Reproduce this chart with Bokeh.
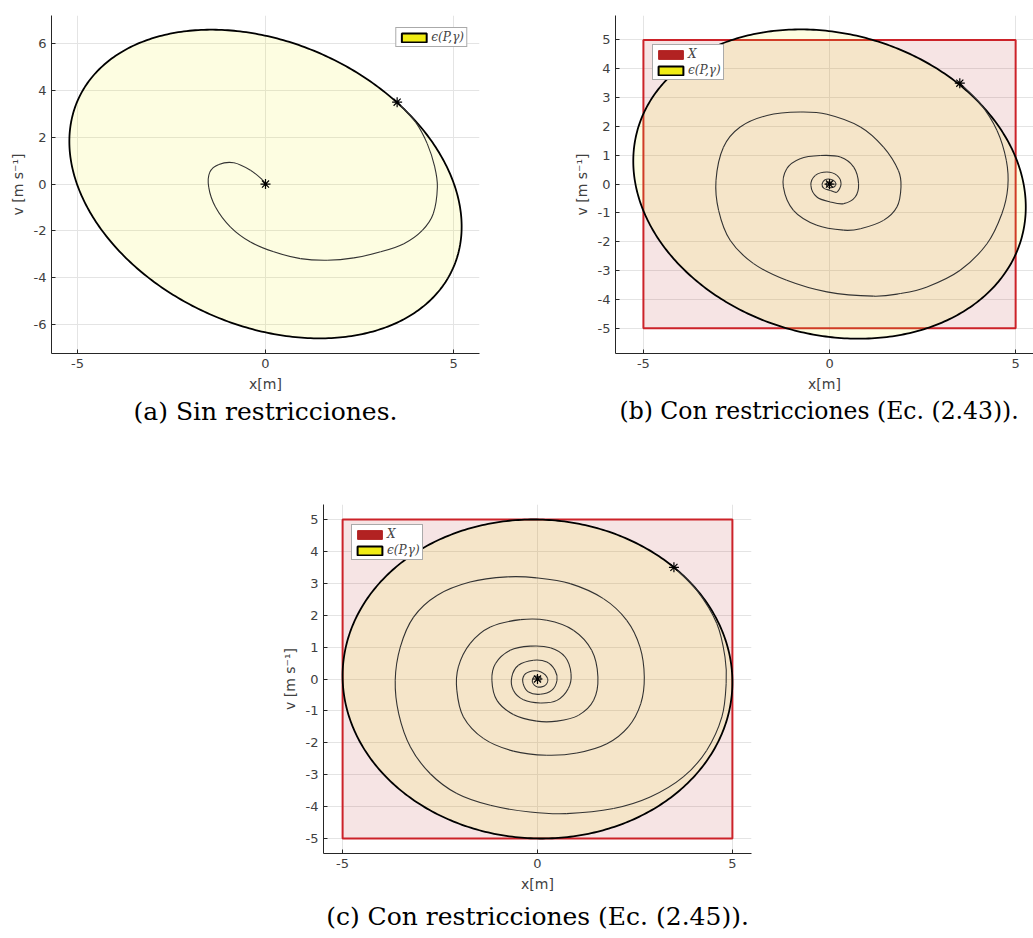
import numpy as np
from bokeh.plotting import figure
from bokeh.layouts import column, row
from bokeh.models import FixedTicker, Legend, LegendItem, Title, Spacer, Range1d
from bokeh.embed import file_html
from bokeh.resources import INLINE

# ---- tick positions -------------------------------------------------------
x_ticks = [-5, 0, 5]
va_ticks = [-6, -4, -2, 0, 2, 4, 6]
vbc_ticks = [-5, -4, -3, -2, -1, 0, 1, 2, 3, 4, 5]

# ---- initial state and equilibrium ----------------------------------------
x0 = [3.5]
v0 = [3.5]
xe = [0.0]
ve = [0.0]

# ---- state constraint set X : |x| <= 5, |v| <= 5 ---------------------------
box_x = [-5, 5, 5, -5]
box_v = [-5, -5, 5, 5]

# ---- ellipsoid shape matrices gamma*P^-1, stored as [m11, m12, m22] -------
ell_a = [27.2, -9.5, 43.6]
ell_b = [27.8, -4.2, 28.8]
ell_c = [25.0, -0.5, 25.0]

# ---- closed-loop trajectories from x0 --------------------------------------
traj_a_x = [3.5, 3.99, 4.30, 4.50, 4.57, 4.46, 4.17, 3.68, 3.06, 2.35, 1.64, 0.93,
            0.22, -0.40, -0.93, -1.33, -1.51, -1.48, -1.24, -0.84, -0.40, -0.09, 0.0]
traj_a_v = [3.5, 2.65, 1.73, 0.73, -0.13, -1.27, -1.98, -2.55, -2.90, -3.16, -3.26, -3.19,
            -2.90, -2.48, -1.84, -0.98, -0.13, 0.51, 0.84, 0.91, 0.59, 0.19, 0.0]

traj_b_x = [3.5, 4.05, 4.50, 4.75, 4.79, 4.63, 4.23, 3.51, 2.62, 1.90, 1.18,
            -0.07, -1.15, -2.04, -2.67, -2.98, -3.05, -2.85, -2.40, -1.68, -0.79,
            -0.07, 0.83, 1.45, 1.85, 1.92, 1.81, 1.45, 0.83, 0.38, -0.34,
            -0.97, -1.24, -1.15, -0.79, -0.25, 0.29, 0.65, 0.78, 0.69, 0.38,
            0.02, -0.34, -0.50, -0.38, -0.07, 0.20, 0.31, 0.20, 0.02, -0.15,
            -0.20, -0.12, 0.02, 0.15, 0.16, 0.08, -0.04, -0.09, -0.04, 0.04,
            0.06, 0.0]
traj_b_v = [3.5, 2.79, 1.86, 0.82, -0.10, -1.03, -2.07, -2.99, -3.57, -3.80, -3.89,
            -3.74, -3.34, -2.76, -1.95, -0.91, 0.13, 1.28, 1.98, 2.38, 2.50,
            2.42, 1.98, 1.28, 0.47, -0.10, -0.80, -1.26, -1.55, -1.60, -1.43,
            -0.91, -0.10, 0.53, 0.88, 0.99, 0.94, 0.59, 0.01, -0.45, -0.68,
            -0.62, -0.45, -0.05, 0.30, 0.42, 0.30, 0.01, -0.28, -0.22, -0.15,
            0.0, 0.15, 0.17, 0.08, -0.05, -0.12, -0.10, 0.0, 0.07, 0.06,
            0.0, 0.0]

traj_c_x = [3.5, 4.09, 4.60, 4.81, 4.84, 4.73, 4.34, 3.74, 2.89, 1.95,
            0.75, -0.19, -1.21, -2.07, -2.75, -3.26, -3.56, -3.65, -3.52, -3.18,
            -2.58, -1.73, -0.78, -0.02, 0.84, 1.69, 2.29, 2.63, 2.74, 2.65,
            2.33, 1.78, 1.01, 0.24, -0.62, -1.38, -1.90, -2.07, -2.03, -1.73,
            -1.21, -0.44, 0.24, 0.92, 1.39, 1.55, 1.44, 1.05, 0.50, -0.02,
            -0.62, -1.04, -1.17, -1.08, -0.70, -0.19, 0.33, 0.71, 0.86, 0.79,
            0.50, 0.07, -0.36, -0.62, -0.66, -0.49, -0.10, 0.24, 0.45, 0.50,
            0.37, 0.07, -0.23, -0.37, -0.34, -0.14, 0.09, 0.26, 0.20, 0.0,
            -0.13, -0.08, 0.07, 0.08, 0.0]
traj_c_v = [3.5, 2.78, 1.74, 0.69, -0.14, -1.19, -2.24, -3.07, -3.70, -4.06,
            -4.22, -4.17, -3.96, -3.59, -2.97, -2.13, -1.09, -0.04, 1.0, 1.94,
            2.62, 3.04, 3.20, 3.17, 2.99, 2.52, 1.84, 1.0, 0.06, -0.77,
            -1.50, -2.03, -2.32, -2.39, -2.26, -1.87, -1.19, -0.35, 0.38, 1.11,
            1.63, 1.86, 1.84, 1.53, 0.90, 0.06, -0.67, -1.14, -1.32, -1.32,
            -1.11, -0.67, -0.04, 0.48, 0.90, 1.03, 0.98, 0.69, 0.17, -0.30,
            -0.67, -0.75, -0.65, -0.35, 0.06, 0.43, 0.59, 0.53, 0.27, -0.04,
            -0.35, -0.48, -0.41, -0.14, 0.12, 0.25, 0.22, 0.01, -0.20, -0.25,
            -0.10, 0.08, 0.06, -0.04, 0.0]

captions = ["(a) Sin restricciones.",
            "(b) Con restricciones (Ec. (2.43)).",
            "(c) Con restricciones (Ec. (2.45))."]
ellipse_label = "ϵ(P,γ)"
box_label = "X"

YELLOW = "#F0EC14"
RED = "#B22222"
BOX_LINE = "#CC2229"
AX = "#262626"
TXT = "#404040"


def ellipse_outline(m, n=400):
    """Boundary of {z : z' M^-1 z <= 1} for the shape matrix M."""
    mat = np.array([[m[0], m[1]], [m[1], m[2]]])
    chol = np.linalg.cholesky(mat)
    t = np.linspace(0.0, 2.0 * np.pi, n)
    pts = chol @ np.vstack([np.cos(t), np.sin(t)])
    return pts[0], pts[1]


def smooth_path(p, xs, ys, **kw):
    """Draw a curve through the given states with cubic Bezier pieces
    (Catmull-Rom tangents), one piece between each pair of states."""
    x = np.asarray(xs, dtype=float)
    y = np.asarray(ys, dtype=float)
    xp = np.concatenate([[x[0]], x, [x[-1]]])
    yp = np.concatenate([[y[0]], y, [y[-1]]])
    x_a, y_a = xp[1:-2], yp[1:-2]
    x_b, y_b = xp[2:-1], yp[2:-1]
    c0x = x_a + (xp[2:-1] - xp[:-3]) / 6.0
    c0y = y_a + (yp[2:-1] - yp[:-3]) / 6.0
    c1x = x_b - (xp[3:] - xp[1:-2]) / 6.0
    c1y = y_b - (yp[3:] - yp[1:-2]) / 6.0
    p.bezier(x0=x_a, y0=y_a, x1=x_b, y1=y_b, cx0=c0x, cy0=c0y, cx1=c1x, cy1=c1y, **kw)


def make_panel(width, height, borders, xr, yr, yticks, caption, cap_size, cap_standoff,
               cap_align="center", cap_offset=0):
    left, right, top, bottom = borders
    p = figure(width=width, height=height, x_range=Range1d(*xr), y_range=Range1d(*yr),
               output_backend="svg", toolbar_location=None, title=None,
               min_border_left=left, min_border_right=right,
               min_border_top=top, min_border_bottom=bottom)
    p.outline_line_color = None
    p.background_fill_color = "white"
    p.border_fill_color = "white"
    p.xaxis.ticker = FixedTicker(ticks=x_ticks)
    p.yaxis.ticker = FixedTicker(ticks=yticks)
    p.xaxis.major_label_overrides = {t: str(t) for t in x_ticks}
    p.yaxis.major_label_overrides = {t: str(t) for t in yticks}
    p.xaxis.axis_label = "x[m]"
    p.yaxis.axis_label = "v [m s⁻¹]"
    for ax in (p.xaxis[0], p.yaxis[0]):
        ax.major_tick_in = 4
        ax.major_tick_out = 0
        ax.minor_tick_in = 0
        ax.minor_tick_out = 0
        ax.axis_line_color = AX
        ax.major_tick_line_color = AX
        ax.major_label_standoff = 5
        ax.axis_label_standoff = 5
        ax.major_label_text_font = "DejaVu Sans"
        ax.major_label_text_font_size = "13px"
        ax.major_label_text_color = TXT
        ax.axis_label_text_font = "DejaVu Sans"
        ax.axis_label_text_font_size = "14px"
        ax.axis_label_text_font_style = "normal"
        ax.axis_label_text_color = TXT
    p.grid.grid_line_color = "#e4e4e4"
    p.grid.grid_line_width = 1
    cap = Title(text=caption, align=cap_align, offset=cap_offset, text_font="DejaVu Serif",
                text_font_size=cap_size, text_font_style="normal", text_color="black",
                standoff=cap_standoff)
    p.add_layout(cap, "below")
    return p


def legend_key(p, color, edge, width):
    # one undrawn (NaN) quad per key, so the legend has a swatch to paint
    return p.quad(left=[np.nan], right=[np.nan], top=[np.nan], bottom=[np.nan],
                  fill_color=color, line_color=edge, line_width=width)


def draw_content(p, ell, tx, tv, with_box):
    items = []
    if with_box:
        p.patch(box_x, box_v, fill_color=RED, fill_alpha=0.12,
                line_color=BOX_LINE, line_width=2)
        key_box = legend_key(p, RED, RED, 1)
        items.append(LegendItem(label=box_label, renderers=[key_box]))
    ex, ev = ellipse_outline(ell)
    p.patch(ex, ev, fill_color=YELLOW, fill_alpha=0.13, line_color="black",
            line_width=1.8, line_join="round")
    key_ell = legend_key(p, YELLOW, "black", 2)
    items.append(LegendItem(label=ellipse_label, renderers=[key_ell]))
    smooth_path(p, tx, tv, line_color="#333333", line_width=1.1)
    p.scatter(x0, v0, marker="asterisk", size=10, line_color="black", line_width=1.2)
    p.scatter(xe, ve, marker="asterisk", size=10, line_color="black", line_width=1.2)
    return items


def style_legend(leg):
    leg.glyph_width = 31
    leg.glyph_height = 11
    leg.label_height = 11
    leg.label_text_font = "DejaVu Serif"
    leg.label_text_font_style = "italic"
    leg.label_text_font_size = "12px"
    leg.label_standoff = 2
    leg.padding = 2
    leg.spacing = 2
    leg.border_line_color = "#555555"
    leg.border_line_width = 1
    leg.background_fill_color = "white"
    leg.background_fill_alpha = 1.0


# panel (a): unconstrained
pa = make_panel(564, 440, (51, 85, 15, 87), (-5.69, 5.69), (-7.25, 7.21), va_ticks,
                captions[0], "25px", 0)
items_a = draw_content(pa, ell_a, traj_a_x, traj_a_v, with_box=False)
leg_a = Legend(items=items_a, location="top_right", margin=12)
style_legend(leg_a)
pa.add_layout(leg_a)

# panel (b): constrained, eq. (2.43)
pb = make_panel(469, 440, (51, 0, 15, 87), (-5.75, 5.48), (-5.88, 5.85), vbc_ticks,
                captions[1], "23.5px", 1, cap_align="left", cap_offset=4)
items_b = draw_content(pb, ell_b, traj_b_x, traj_b_v, with_box=True)
leg_b = Legend(items=items_b, location=(37, 273), margin=0)
style_legend(leg_b)
pb.add_layout(leg_b)

# panel (c): constrained, eq. (2.45)
pc = make_panel(499, 496, (51, 20, 64, 83), (-5.49, 5.49), (-5.47, 5.47), vbc_ticks,
                captions[2], "25px", 10)
items_c = draw_content(pc, ell_c, traj_c_x, traj_c_v, with_box=True)
leg_c = Legend(items=items_c, location=(28, 293), margin=0)
style_legend(leg_c)
pc.add_layout(leg_c)

layout = column(row(pa, pb), row(Spacer(width=272, height=496), pc))

with open("out.html", "w") as f:
    f.write(file_html(layout, INLINE))
